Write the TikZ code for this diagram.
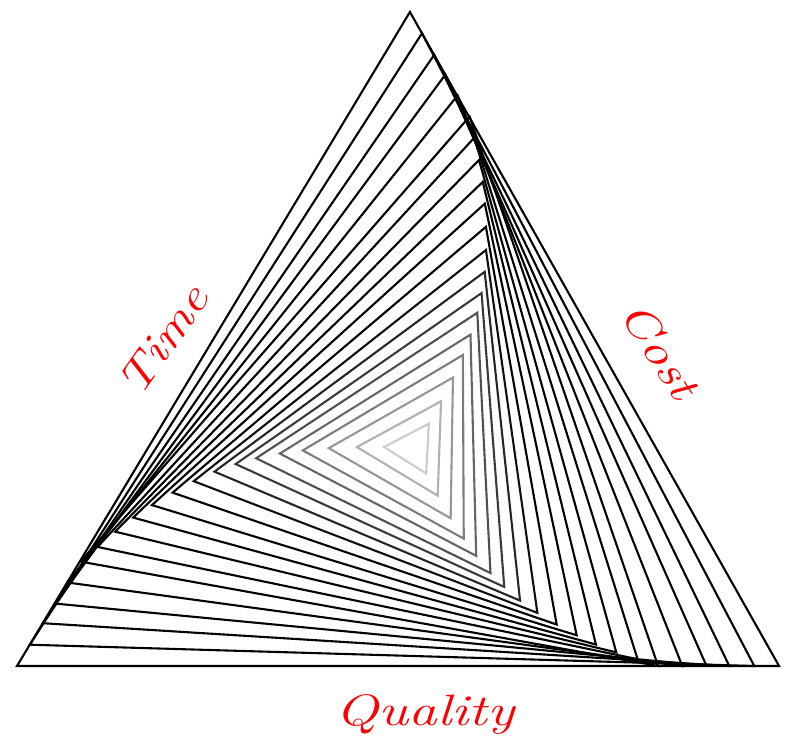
\documentclass[tikz,border=0pt]{standalone}
\usepackage{graphicx}
\begin{document}
\begin{tikzpicture}[x=1pt,y=-1pt,
  whirl/.style={line width=2.1pt,line join=miter},
  lbl/.style={text=red,font=\fontsize{44}{50}\selectfont\itshape,inner sep=0pt}]
\useasboundingbox (0,0) rectangle (792,748);
% k / circumradius / rotation (deg, clockwise)
\foreach \k/\R/\th in {0/440/0, 1/418.7/1.7, 2/397.6/3.6, 3/378.5/5.5,
   4/359.2/7.8, 5/340/10.3, 6/319.7/11.8, 7/299/13.6, 8/278.5/15.4,
   9/258/17.1, 10/236/19, 11/214/21, 12/193/22.9, 13/172/24.6,
   14/152/26.1, 15/129/27.5, 16/107/28.7, 17/82/29.9, 18/55/31, 19/29/32}{
  \pgfmathsetmacro\ox{402+11*(\k/19)^2}
  \pgfmathsetmacro\g{20+80*min(1,(\R-29)/200)}
  \pgfmathsetmacro\pax{\ox+\R*sin(\th)+0.018*\R*cos(\th)}
  \pgfmathsetmacro\pay{448-0.991*\R*cos(\th)}
  \pgfmathsetmacro\pbx{\ox+\R*sin(\th+120)+0.018*\R*cos(\th+120)}
  \pgfmathsetmacro\pby{448-0.991*\R*cos(\th+120)}
  \pgfmathsetmacro\pcx{\ox+\R*sin(\th+240)+0.018*\R*cos(\th+240)}
  \pgfmathsetmacro\pcy{448-0.991*\R*cos(\th+240)}
  \draw[whirl,color=black!\g] (\pax,\pay) -- (\pbx,\pby) -- (\pcx,\pcy) -- cycle;
}
\node[lbl,rotate=55] (time) at (163,340) {\scalebox{1.25}[1]{Time}};
\node[lbl,rotate=-57] (cost) at (660,350) {\scalebox{1.25}[1]{Cost}};
\node[lbl] (quality) at (425,714) {\scalebox{1.3}[1]{Quality}};
\end{tikzpicture}
\end{document}
